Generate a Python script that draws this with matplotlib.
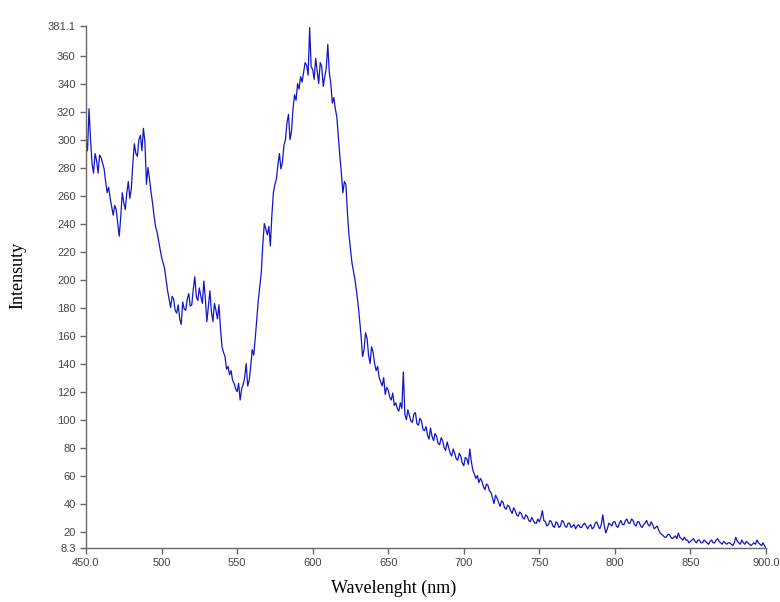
import numpy as np
import matplotlib
matplotlib.use("Agg")
import matplotlib.pyplot as plt

# photoluminescence spectrum, every 1 nm
wl_start = 450
wl_step = 1
intensity = [
    300, 292, 322, 300, 283, 276, 290, 285, 276, 289,   # 450
    287, 283, 279, 270, 262, 266, 258, 252, 246, 253,   # 460
    250, 240, 231, 245, 262, 255, 250, 262, 270, 258,   # 470
    265, 283, 297, 290, 288, 300, 303, 292, 308, 298,   # 480
    268, 280, 272, 263, 255, 246, 238, 234, 228, 222,   # 490
    216, 212, 208, 200, 192, 186, 180, 188, 186, 178,   # 500
    176, 182, 172, 168, 184, 179, 178, 186, 190, 181,   # 510
    182, 193, 202, 188, 185, 194, 188, 183, 199, 186,   # 520
    170, 181, 192, 177, 170, 183, 178, 172, 182, 165,   # 530
    152, 148, 145, 136, 138, 132, 135, 128, 126, 122,   # 540
    120, 126, 114, 122, 125, 130, 140, 124, 128, 138,   # 550
    150, 146, 158, 172, 185, 195, 205, 225, 240, 236,   # 560
    232, 238, 224, 246, 262, 268, 272, 282, 290, 279,   # 570
    284, 296, 300, 312, 318, 300, 306, 322, 332, 328,   # 580
    340, 336, 345, 341, 348, 355, 353, 346, 380, 352,   # 590
    350, 343, 358, 349, 340, 355, 352, 338, 345, 351,   # 600
    368, 348, 340, 326, 330, 322, 316, 302, 288, 276,   # 610
    262, 270, 268, 248, 232, 222, 212, 206, 200, 192,   # 620
    183, 172, 160, 145, 150, 162, 158, 146, 140, 152,   # 630
    148, 140, 135, 138, 130, 127, 124, 130, 118, 123,   # 640
    121, 116, 114, 119, 110, 112, 108, 106, 112, 108,   # 650
    134, 104, 100, 107, 103, 99, 98, 104, 105, 97,      # 660
    96, 101, 99, 93, 92, 95, 89, 86, 94, 88,            # 670
    85, 90, 88, 83, 82, 87, 85, 80, 78, 84,             # 680
    80, 76, 74, 79, 76, 72, 71, 76, 74, 69,             # 690
    67, 73, 72, 68, 79, 70, 64, 61, 58, 60,             # 700
    55, 58, 56, 52, 50, 54, 53, 49, 48, 44,             # 710
    40, 46, 44, 41, 38, 42, 41, 37, 36, 39,             # 720
    38, 35, 33, 37, 35, 32, 31, 34, 33, 30,             # 730
    29, 32, 31, 28, 27, 30, 28, 26, 26, 29,             # 740
    27, 30, 35, 28, 27, 24, 25, 28, 27, 24,             # 750
    23, 27, 26, 23, 24, 28, 27, 24, 23, 26,             # 760
    26, 23, 24, 25, 22, 24, 25, 23, 23, 25,             # 770
    26, 24, 22, 24, 25, 22, 23, 26, 27, 24,             # 780
    22, 25, 32, 24, 19, 22, 26, 25, 24, 27,             # 790
    27, 24, 23, 26, 28, 25, 25, 28, 29, 26,             # 800
    26, 29, 28, 25, 24, 27, 27, 24, 23, 25,             # 810
    26, 28, 25, 24, 27, 25, 22, 23, 24, 21,             # 820
    19, 18, 17, 16, 16, 18, 18, 16, 15, 16,             # 830
    17, 15, 19, 16, 15, 14, 16, 14, 14, 12,             # 840
    13, 14, 15, 13, 12, 14, 14, 12, 12, 14,             # 850
    13, 12, 11, 13, 14, 12, 12, 14, 15, 13,             # 860
    12, 11, 13, 12, 11, 12, 12, 11, 10, 12,             # 870
    16, 13, 12, 11, 14, 12, 11, 13, 12, 11,             # 880
    10, 11, 12, 11, 14, 12, 11, 10, 12, 10,             # 890
    8.3,                                                # 900
]
wavelength = np.arange(len(intensity)) * wl_step + wl_start

x_ticks = [450, 500, 550, 600, 650, 700, 750, 800, 850, 900]
x_labels = ["450.0", "500", "550", "600", "650", "700", "750", "800", "850", "900.0"]
y_ticks = [8.3, 20, 40, 60, 80, 100, 120, 140, 160, 180, 200, 220, 240,
           260, 280, 300, 320, 340, 360, 381.1]
y_labels = ["8.3"] + [str(v) for v in y_ticks[1:-1]] + ["381.1"]

fig = plt.figure(figsize=(7.8, 6.02), dpi=100)
ax = fig.add_axes([86 / 780, 1 - 548 / 602, 680 / 780, 522 / 602])
ax.plot(wavelength, intensity, color="#1414c8", lw=0.9)

ax.set_xlim(450, 900)
ax.set_ylim(8.3, 381.1)
ax.set_xticks(x_ticks)
ax.set_xticklabels(x_labels)
ax.set_yticks(y_ticks)
ax.set_yticklabels(y_labels)

for s in ["top", "right"]:
    ax.spines[s].set_visible(False)
for s in ["left", "bottom"]:
    ax.spines[s].set_color("#666666")
    ax.spines[s].set_linewidth(1.0)

ax.tick_params(axis="both", colors="#666666", length=4, width=1.0,
               labelsize=8, labelcolor="#444444")
for lab in ax.get_xticklabels() + ax.get_yticklabels():
    lab.set_family("Liberation Sans")

fig.text(394 / 780, 1 - 588 / 602, "Wavelenght (nm)", family="Liberation Serif",
         fontsize=13, ha="center", va="center")
fig.text(18 / 780, 1 - 275 / 602, "Intensuty", family="Liberation Serif",
         fontsize=13, rotation=90, ha="center", va="center")

fig.savefig("out.png", dpi=100)
